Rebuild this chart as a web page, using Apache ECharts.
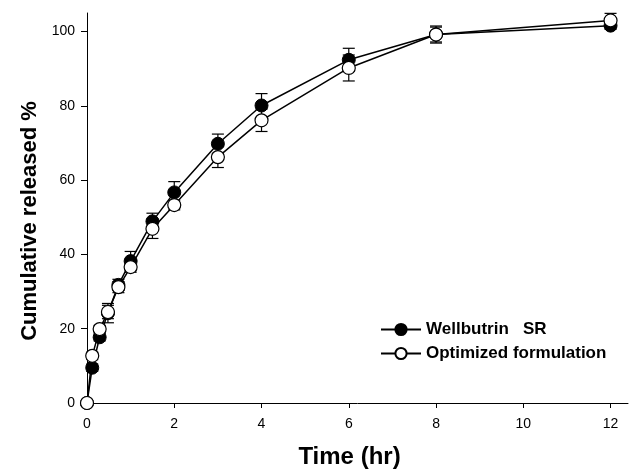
<!DOCTYPE html>
<html>
<head>
<meta charset="utf-8">
<script src="https://cdn.jsdelivr.net/npm/echarts@6/dist/echarts.min.js"></script>
<style>
  html, body { margin: 0; padding: 0; background: #fff; }
  #release-chart { width: 631px; height: 474px; }
</style>
</head>
<body>
<div id="release-chart"></div>
<script>
// 时间点 (hr)
const timePoints = [0, 0.12, 0.29, 0.48, 0.72, 1, 1.5, 2, 3, 4, 6, 8, 12];
// Wellbutrin SR
const wellbutrinValues = [0, 9.5, 17.7, 24.2, 31.8, 38.2, 48.9, 56.7, 69.8, 80.1, 92.4, 99.2, 101.6];
const wellbutrinErrors = [0, 1, 1, 2.6, 1.5, 2.6, 2.2, 2.9, 2.6, 3.2, 3.1, 2.0, 1.0];
// Optimized formulation
const optimizedValues = [0, 12.7, 19.9, 24.5, 31.2, 36.6, 46.9, 53.3, 66.2, 76.1, 90.2, 99.2, 103.0];
const optimizedErrors = [0, 1, 1, 1.8, 1.5, 1.4, 2.6, 1.3, 2.8, 3.0, 3.5, 2.3, 1.9];

const xTicks = [0, 2, 4, 6, 8, 10, 12];
const yTicks = [0, 20, 40, 60, 80, 100];

const fontFamily = "'Liberation Sans', Arial, sans-serif";

function pairs(values) {
  return timePoints.map((t, i) => [t, values[i]]);
}

function errorData(values, errors) {
  return timePoints.map((t, i) => [t, values[i] - errors[i], values[i] + errors[i]]);
}

function renderErrorBar(params, api) {
  const lo = api.coord([api.value(0), api.value(1)]);
  const hi = api.coord([api.value(0), api.value(2)]);
  const half = 6;
  const style = { stroke: "#000", lineWidth: 1.2 };
  return {
    type: "group",
    children: [
      { type: "line", shape: { x1: hi[0], y1: hi[1], x2: lo[0], y2: lo[1] }, style: style },
      { type: "line", shape: { x1: hi[0] - half, y1: hi[1], x2: hi[0] + half, y2: hi[1] }, style: style },
      { type: "line", shape: { x1: lo[0] - half, y1: lo[1], x2: lo[0] + half, y2: lo[1] }, style: style }
    ]
  };
}

const chart = echarts.init(document.getElementById("release-chart"));

const option = {
  backgroundColor: "#fff",
  animation: false,
  textStyle: { fontFamily: fontFamily },
  grid: {
    left: 87,
    right: 3,
    top: 13,
    bottom: 66,
    containLabel: false
  },
  legend: {
    orient: "vertical",
    left: 375,
    top: 316,
    itemWidth: 40,
    itemHeight: 14,
    itemGap: 7,
    textStyle: {
      color: "#000",
      fontWeight: "bold",
      fontSize: 17,
      fontFamily: fontFamily
    },
    data: ["Wellbutrin   SR", "Optimized formulation"]
  },
  xAxis: {
    type: "value",
    min: 0,
    max: 12.4,
    name: "Time (hr)",
    nameLocation: "middle",
    nameGap: 42,
    nameTextStyle: {
      color: "#000",
      fontWeight: "bold",
      fontSize: 24,
      padding: [0, 16, 0, 0]
    },
    axisLine: { onZero: false, lineStyle: { color: "#000", width: 1 } },
    axisTick: { show: true, length: 5, lineStyle: { color: "#000" }, customValues: xTicks },
    axisLabel: { color: "#000", fontSize: 14, margin: 14, customValues: xTicks },
    splitLine: { show: false }
  },
  yAxis: {
    type: "value",
    min: 0,
    max: 105,
    name: "Cumulative released %",
    nameLocation: "middle",
    nameGap: 44,
    nameTextStyle: {
      color: "#000",
      fontWeight: "bold",
      fontSize: 22,
      padding: [0, 26, 0, 0]
    },
    axisLine: { show: true, onZero: false, lineStyle: { color: "#000", width: 1 } },
    axisTick: { show: true, length: 6, lineStyle: { color: "#000" }, customValues: yTicks },
    axisLabel: { color: "#000", fontSize: 14, margin: 12, customValues: yTicks },
    splitLine: { show: false }
  },
  series: [
    {
      name: "wellbutrinErr",
      type: "custom",
      renderItem: renderErrorBar,
      data: errorData(wellbutrinValues, wellbutrinErrors),
      clip: false,
      z: 1
    },
    {
      name: "optimizedErr",
      type: "custom",
      renderItem: renderErrorBar,
      data: errorData(optimizedValues, optimizedErrors),
      clip: false,
      z: 1
    },
    {
      name: "Wellbutrin   SR",
      type: "line",
      data: pairs(wellbutrinValues),
      symbol: "circle",
      symbolSize: 13,
      showAllSymbol: true,
      clip: false,
      lineStyle: { color: "#000", width: 1.5 },
      itemStyle: { color: "#000", borderColor: "#000", borderWidth: 1 },
      z: 2
    },
    {
      name: "Optimized formulation",
      type: "line",
      data: pairs(optimizedValues),
      symbol: "circle",
      symbolSize: 13,
      showAllSymbol: true,
      clip: false,
      lineStyle: { color: "#000", width: 1.5 },
      itemStyle: { color: "#fff", borderColor: "#000", borderWidth: 1.2 },
      z: 3
    }
  ]
};

chart.setOption(option);
</script>
</body>
</html>
